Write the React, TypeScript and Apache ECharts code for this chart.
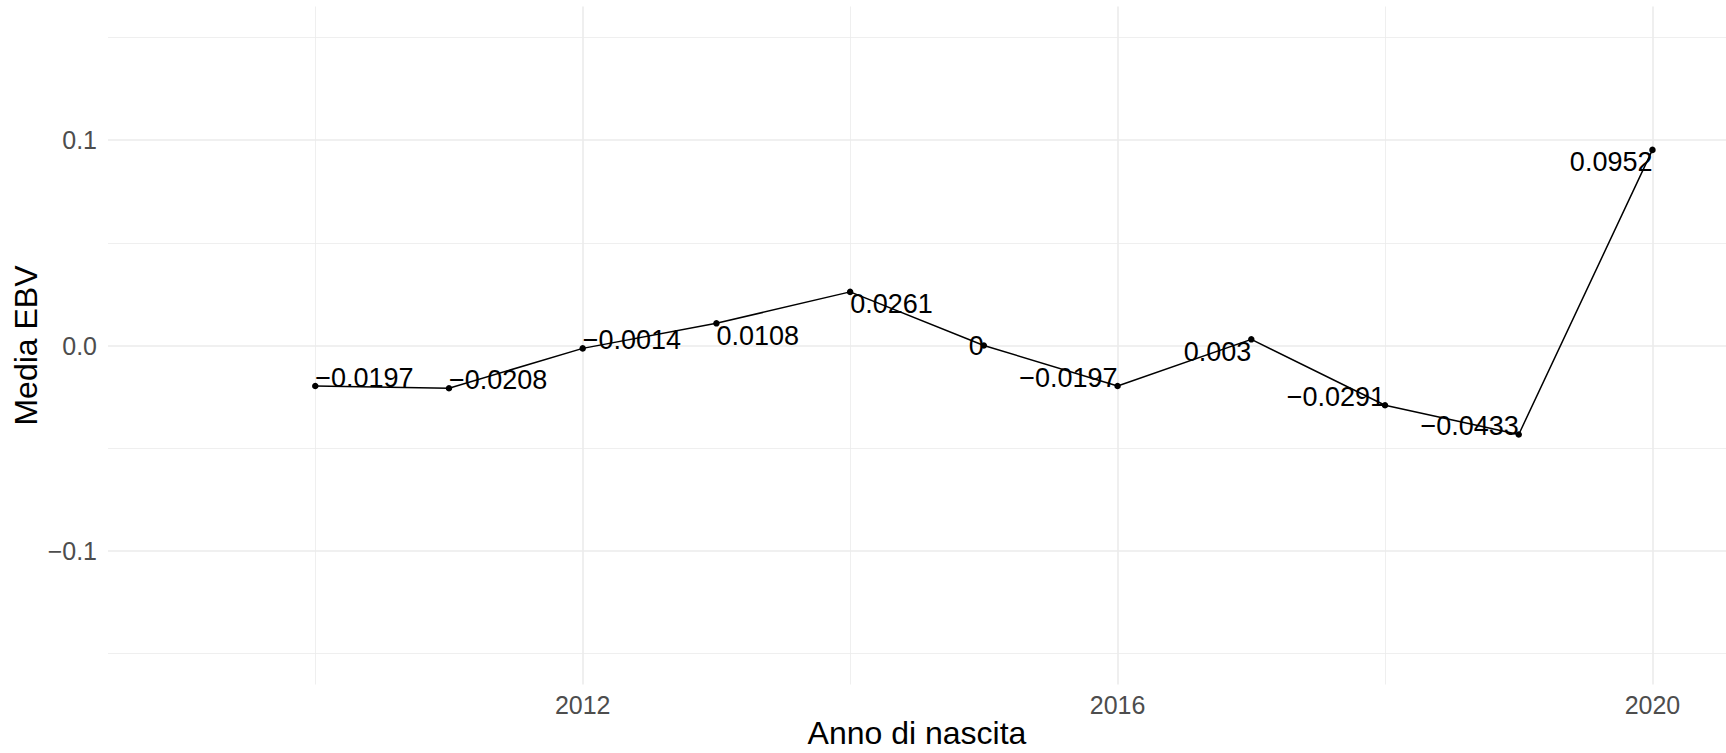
import React, { useEffect, useRef } from "react";
import * as echarts from "echarts";

const years = [2010, 2011, 2012, 2013, 2014, 2015, 2016, 2017, 2018, 2019, 2020];
const meanEbv = [-0.0197, -0.0208, -0.0014, 0.0108, 0.0261, 0, -0.0197, 0.003, -0.0291, -0.0433, 0.0952];

const xMajorBreaks = [2012, 2016, 2020];
const xMinorBreaks = [2010, 2014, 2018];
const yMajorBreaks = [-0.1, 0, 0.1];
const yMinorBreaks = [-0.15, -0.05, 0.05, 0.15];

const X_MIN = 2008.45;
const X_MAX = 2020.55;
const Y_MIN = -0.165;
const Y_MAX = 0.165;

const FONT = '"Liberation Sans", Arial, Helvetica, sans-serif';
const MINUS = "\u2212";

const fmt = (v: number) => {
  const s = String(Math.round(v * 10000) / 10000);
  return s.replace("-", MINUS);
};

export default function App() {
  const ref = useRef<HTMLDivElement>(null);
  useEffect(() => {
    if (!ref.current) return;
    const chart = echarts.init(ref.current, null, { renderer: "svg" });
    const xc = (X_MIN + X_MAX) / 2;
    const yc = (Y_MIN + Y_MAX) / 2;
    const points = years.map((yr, i) => {
      const v = meanEbv[i];
      const align = yr < xc ? "left" : yr > xc ? "right" : "center";
      const vAlign = v < yc ? "bottom" : v > yc ? "top" : "middle";
      const dy = vAlign === "bottom" ? 5.5 : vAlign === "top" ? -1 : 0;
      return {
        value: [yr, v],
        label: {
          show: true,
          position: "inside",
          align,
          verticalAlign: vAlign,
          offset: [0, dy],
          formatter: fmt(v),
        },
      };
    });
    const majorStyle = { color: "#EBEBEB", width: 1.6, type: "solid" };
    const minorStyle = { color: "#EBEBEB", width: 0.8, type: "solid" };
    const gridData = [
      ...xMinorBreaks.map((x) => ({ xAxis: x, lineStyle: minorStyle })),
      ...yMinorBreaks.map((y) => ({ yAxis: y, lineStyle: minorStyle })),
      ...xMajorBreaks.map((x) => ({ xAxis: x, lineStyle: majorStyle })),
      ...yMajorBreaks.map((y) => ({ yAxis: y, lineStyle: majorStyle })),
    ];
    chart.setOption({
      animation: false,
      backgroundColor: "#FFFFFF",
      textStyle: { fontFamily: FONT },
      grid: {
        left: 108,
        right: 0,
        top: 6.5,
        bottom: 68.5,
        containLabel: false,
        outerBoundsMode: "none",
      },
      xAxis: {
        type: "value",
        min: X_MIN,
        max: X_MAX,
        name: "Anno di nascita",
        nameLocation: "middle",
        nameGap: 32.5,
        nameMoveOverlap: false,
        nameTextStyle: { color: "#000000", fontSize: 32, fontFamily: FONT },
        axisLine: { show: false },
        axisTick: { show: false },
        splitLine: { show: false },
        axisLabel: {
          customValues: xMajorBreaks,
          color: "#4D4D4D",
          fontSize: 25,
          fontFamily: FONT,
          margin: 7.5,
          formatter: (v: number) => String(v),
        },
      },
      yAxis: {
        type: "value",
        min: Y_MIN,
        max: Y_MAX,
        name: "Media EBV",
        nameLocation: "middle",
        nameGap: 66.5,
        nameRotate: 90,
        nameMoveOverlap: false,
        nameTextStyle: { color: "#000000", fontSize: 32, fontFamily: FONT },
        axisLine: { show: false },
        axisTick: { show: false },
        splitLine: { show: false },
        axisLabel: {
          customValues: yMajorBreaks,
          color: "#4D4D4D",
          fontSize: 25,
          fontFamily: FONT,
          margin: 11,
          formatter: (v: number) =>
            v === 0 ? "0.0" : (v < 0 ? MINUS : "") + Math.abs(v).toFixed(1),
        },
      },
      series: [
        {
          type: "line",
          data: [],
          z: 0,
          silent: true,
          markLine: {
            silent: true,
            z: 0,
            symbol: ["none", "none"],
            label: { show: false },
            animation: false,
            data: gridData,
          },
        },
        {
          type: "line",
          z: 3,
          data: points,
          symbol: "circle",
          symbolSize: 6.5,
          showAllSymbol: true,
          itemStyle: { color: "#000000" },
          lineStyle: { color: "#000000", width: 1.5 },
          label: {
            color: "#000000",
            fontSize: 27,
            fontFamily: FONT,
          },
          emphasis: { disabled: true },
        },
      ],
    });
    return () => chart.dispose();
  }, []);
  return (
    <div
      ref={ref}
      style={{ position: "fixed", left: 0, top: 0, width: 1726, height: 753 }}
    />
  );
}
